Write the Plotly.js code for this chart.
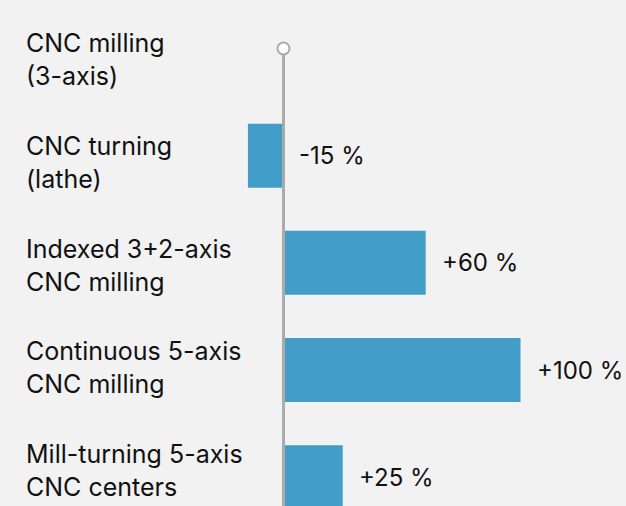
<!DOCTYPE html>
<html>
<head>
<meta charset="utf-8">
<script src="https://cdn.plot.ly/plotly-3.0.1.min.js"></script>
<style>
  html, body { margin: 0; padding: 0; background: #f2f2f2; }
  #chart { width: 626px; height: 506px; }
</style>
</head>
<body>
<div id="chart"></div>
<script>
// ---- data ----
const categories = [
  "CNC milling<br>(3-axis)",
  "CNC turning<br>(lathe)",
  "Indexed 3+2-axis<br>CNC milling",
  "Continuous 5-axis<br>CNC milling",
  "Mill-turning 5-axis<br>CNC centers"
];
const changePct = [0, -15, 60, 100, 25];

// ---- styling ----
const FONT = "Inter, 'Noto Sans', 'DejaVu Sans', sans-serif";
const barColor = "#429dc9";
const axisGray = "#ababab";

const idx = categories.map((c, i) => i);

const barTrace = {
  type: "bar",
  orientation: "h",
  x: changePct,
  y: idx,
  width: 0.597,
  marker: { color: barColor, line: { width: 0 } },
  hoverinfo: "skip",
  showlegend: false
};

const valueLabels = changePct.map((v, i) => {
  if (v === 0) return null;
  return {
    x: Math.max(v, 0), y: i, xref: "x", yref: "y",
    text: (v > 0 ? "+" : "") + v + " %",
    showarrow: false, xanchor: "left", yanchor: "middle", xshift: 14,
    font: { family: FONT, size: 24, color: "#111" }
  };
}).filter(a => a);

const catLabels = categories.map((c, i) => ({
  x: 0, xref: "paper", xshift: 24, y: i, yref: "y2",
  text: c, showarrow: false, xanchor: "left", yanchor: "middle", align: "left",
  font: { family: FONT, size: 25, color: "#111" }
}));

const layout = {
  width: 626, height: 506,
  margin: { l: 0, r: 0, t: 0, b: 0, pad: 0 },
  paper_bgcolor: "#f2f2f2",
  plot_bgcolor: "#f2f2f2",
  showlegend: false,
  xaxis: { range: [-119.6, 144.5], visible: false, fixedrange: true, zeroline: false },
  yaxis: { range: [4.268, -0.452], visible: false, fixedrange: true, zeroline: false },
  yaxis2: { range: [4.34, -0.573], overlaying: "y", visible: false, fixedrange: true },
  shapes: [
    { type: "line", xref: "x", yref: "y", x0: 0, x1: 0, y0: 0, y1: 5,
      line: { color: axisGray, width: 3 }, layer: "above" },
    { type: "circle", xref: "x", yref: "y", xsizemode: "pixel", ysizemode: "pixel",
      xanchor: 0, yanchor: 0, x0: -6, x1: 6, y0: -6, y1: 6,
      fillcolor: "#ffffff", line: { color: axisGray, width: 2 }, layer: "above" }
  ],
  annotations: valueLabels.concat(catLabels)
};

Plotly.newPlot("chart", [barTrace], layout, { displayModeBar: false, staticPlot: true });
</script>
</body>
</html>
